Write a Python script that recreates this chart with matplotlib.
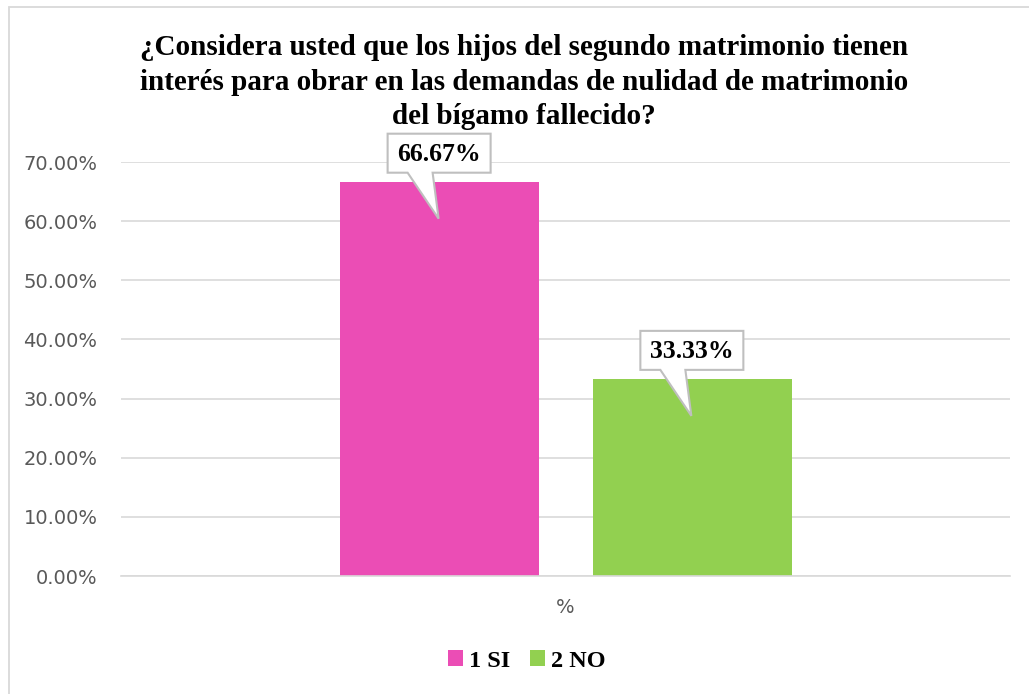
import matplotlib
matplotlib.use("Agg")
import matplotlib.pyplot as plt
from matplotlib.patches import Polygon, Rectangle
import matplotlib.transforms as mtransforms

title = "¿Considera usted que los hijos del segundo matrimonio tienen\ninterés para obrar en las demandas de nulidad de matrimonio\ndel bígamo fallecido?"
series_names = ["1 SI", "2 NO"]
values = [66.67, 33.33]
labels = ["66.67%", "33.33%"]
colors = ["#EB4DB5", "#92D050"]
yticks = [0, 10, 20, 30, 40, 50, 60, 70]
xcat = "%"

W, H = 1029, 694
fig = plt.figure(figsize=(W / 100, H / 100), dpi=100)
ax = fig.add_axes([121 / W, 1 - 576 / H, (1010 - 121) / W, (576 - 162) / H])

offsets = [-0.1416, 0.1427]
width = 0.2246
for off, v, c, n in zip(offsets, values, colors, series_names):
    ax.bar(off, v, width=width, color=c, label=n, zorder=2)

ax.set_xlim(-0.5, 0.5)
ax.set_ylim(0, 70)
ax.set_yticks(yticks)
ax.set_yticklabels([f"{t:.2f}%" for t in yticks], fontsize=14, color="#595959",
                   fontfamily="DejaVu Sans")
ax.tick_params(axis="y", length=0, pad=17)
ax.set_xticks([0])
ax.set_xticklabels([xcat], fontsize=14, color="#595959", fontfamily="DejaVu Sans")
ax.tick_params(axis="x", length=0, pad=16)
ax.grid(axis="y", color="#D9D9D9", linewidth=1.2, zorder=0)
for s in ["top", "right", "left"]:
    ax.spines[s].set_visible(False)
ax.spines["bottom"].set_color("#D9D9D9")
ax.spines["bottom"].set_linewidth(1.2)

# callouts (vertices in pixel offsets relative to bar top)
shape = [(-52, 48), (51, 48), (51, 9), (-7, 9), (-1, -37), (-32, 9), (-52, 9)]
for off, v, lab in zip(offsets, values, labels):
    pts = [(x / 100, y / 100) for x, y in shape]
    trans = mtransforms.ScaledTranslation(off, v, ax.transData)
    poly = Polygon(pts, closed=True, facecolor="white", edgecolor="#BFBFBF",
                   linewidth=1.5, transform=fig.dpi_scale_trans + trans, zorder=5,
                   clip_on=False)
    ax.add_patch(poly)
    t = mtransforms.offset_copy(ax.transData, fig=fig, x=-1, y=27, units="dots")
    ax.text(off, v, lab, transform=t, ha="center", va="center", fontsize=18.5,
            fontweight="bold", fontfamily="Liberation Serif", zorder=6)

fig.text(524 / W, 1 - 82 / H, title, ha="center", va="center", fontsize=21,
         fontweight="bold", fontfamily="Liberation Serif", linespacing=1.38)

leg = fig.legend(loc="center", bbox_to_anchor=(527 / W, 1 - 661 / H), ncol=2,
                 frameon=False, prop={"family": "Liberation Serif", "weight": "bold", "size": 17.5},
                 handlelength=0.63, handleheight=0.6, handletextpad=0.25, columnspacing=0.8)

fig.patches.append(Rectangle((8.5 / W, -0.1), 1.2, 1.1 - 6.5 / H, transform=fig.transFigure,
                             fill=False, edgecolor="#D9D9D9", linewidth=1.3))

fig.savefig("out.png", dpi=100)
